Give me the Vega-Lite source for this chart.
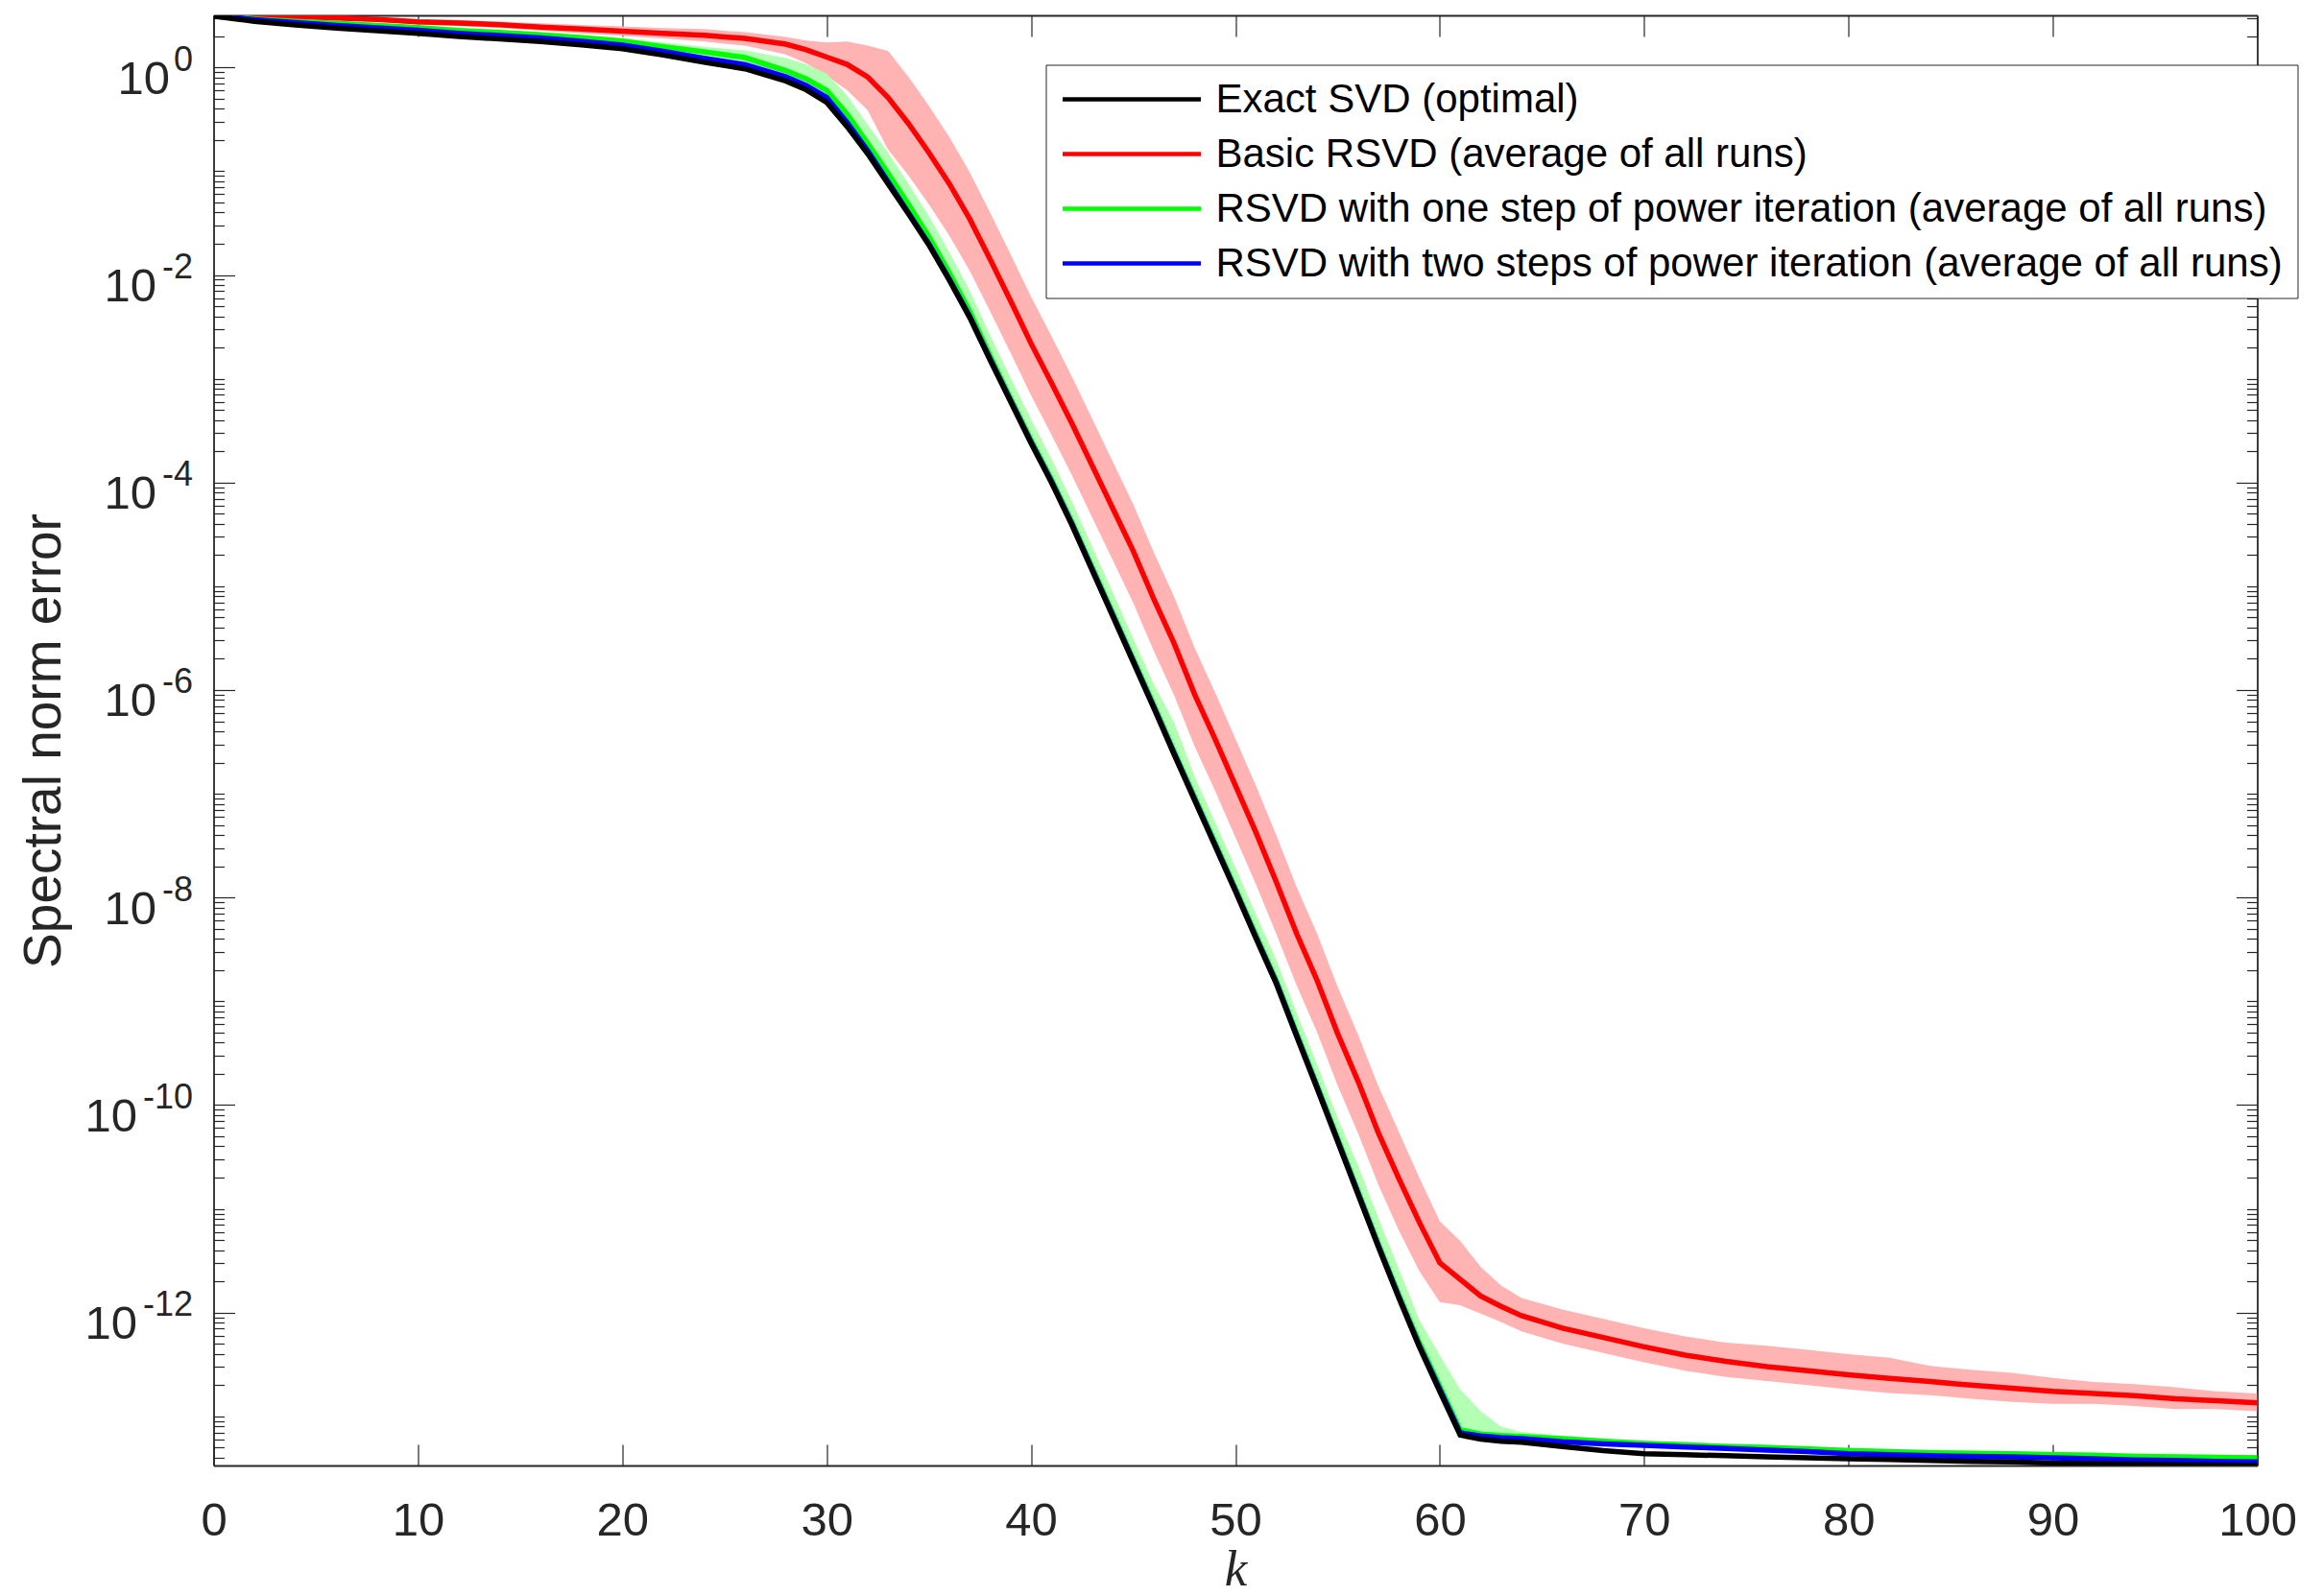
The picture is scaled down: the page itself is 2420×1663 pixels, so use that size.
{
  "$schema": "https://vega.github.io/schema/vega-lite/v6.json",
  "width": 2129,
  "height": 1511,
  "autosize": {"type": "none"},
  "padding": {"left": 222.5, "top": 16, "right": 68.5, "bottom": 136},
  "background": "white",
  "config": {
    "view": {"stroke": null},
    "font": "Liberation Sans",
    "axis": {
      "grid": false,
      "domainColor": "#262626",
      "tickColor": "#262626",
      "labelColor": "#262626",
      "titleColor": "#262626",
      "labelFont": "Liberation Sans",
      "titleFont": "Liberation Sans",
      "titleFontWeight": "normal",
      "domainWidth": 1.8,
      "tickWidth": 1.2,
      "labelFlush": false,
      "labelOverlap": false,
      "labelBound": false
    }
  },
  "data": {
    "values": [
      {"k": 0, "ex": 3.133},
      {"k": 1, "ex": 2.951, "rd": 3.162, "gr": 3.105, "bl": 3.055, "rl": 3.02, "rh": 3.18, "gl": 2.999, "gh": 3.18},
      {"k": 2, "ex": 2.786, "rd": 3.141, "gr": 2.938, "bl": 2.884, "rl": 2.999, "rh": 3.18, "gl": 2.838, "gh": 3.041},
      {"k": 4, "ex": 2.57, "rd": 3.09, "gr": 2.786, "bl": 2.704, "rl": 2.951, "rh": 3.18, "gl": 2.692, "gh": 2.884},
      {"k": 6, "ex": 2.399, "rd": 3.006, "gr": 2.661, "bl": 2.541, "rl": 2.871, "rh": 3.148, "gl": 2.57, "gh": 2.754},
      {"k": 8, "ex": 2.265, "rd": 2.904, "gr": 2.541, "bl": 2.415, "rl": 2.773, "rh": 3.041, "gl": 2.455, "gh": 2.63},
      {"k": 10, "ex": 2.138, "rd": 2.754, "gr": 2.427, "bl": 2.291, "rl": 2.6, "rh": 2.917, "gl": 2.344, "gh": 2.512},
      {"k": 12, "ex": 1.986, "rd": 2.679, "gr": 2.28, "bl": 2.138, "rl": 2.5, "rh": 2.871, "gl": 2.203, "gh": 2.36},
      {"k": 14, "ex": 1.884, "rd": 2.582, "gr": 2.178, "bl": 2.032, "rl": 2.41, "rh": 2.767, "gl": 2.104, "gh": 2.254},
      {"k": 16, "ex": 1.778, "rd": 2.455, "gr": 2.065, "bl": 1.923, "rl": 2.265, "rh": 2.661, "gl": 1.972, "gh": 2.188},
      {"k": 18, "ex": 1.652, "rd": 2.344, "gr": 1.941, "bl": 1.791, "rl": 2.138, "rh": 2.57, "gl": 1.854, "gh": 2.056},
      {"k": 20, "ex": 1.514, "rd": 2.239, "gr": 1.799, "bl": 1.644, "rl": 2.018, "rh": 2.483, "gl": 1.718, "gh": 1.905},
      {"k": 22, "ex": 1.318, "rd": 2.138, "gr": 1.585, "bl": 1.435, "rl": 1.905, "rh": 2.399, "gl": 1.479, "gh": 1.738},
      {"k": 24, "ex": 1.122, "rd": 2.042, "gr": 1.413, "bl": 1.23, "rl": 1.778, "rh": 2.344, "gl": 1.288, "gh": 1.585, "ul": 1.175, "uh": 1.288},
      {"k": 26, "ex": 0.9705, "rd": 1.905, "gr": 1.245, "bl": 1.064, "rl": 1.622, "rh": 2.188, "gl": 1.109, "gh": 1.462, "ul": 1.016, "uh": 1.153},
      {"k": 28, "ex": 0.7413, "rd": 1.679, "gr": 0.9333, "bl": 0.8128, "rl": 1.334, "rh": 1.972, "gl": 0.8128, "gh": 1.23, "ul": 0.7586, "uh": 0.912},
      {"k": 29, "ex": 0.6095, "rd": 1.479, "gr": 0.7762, "bl": 0.6683, "rl": 1.096, "rh": 1.82, "gl": 0.6761, "gh": 1.072, "ul": 0.6237, "uh": 0.7674},
      {"k": 30, "ex": 0.4603, "rd": 1.259, "gr": 0.6026, "bl": 0.5129, "rl": 0.8318, "rh": 1.738, "gl": 0.5012, "gh": 0.871, "ul": 0.4677, "uh": 0.6026},
      {"k": 31, "ex": 0.2692, "rd": 1.072, "gr": 0.3548, "bl": 0.2951, "rl": 0.6026, "rh": 1.778, "gl": 0.2818, "gh": 0.537, "ul": 0.2692, "uh": 0.3548},
      {"k": 32, "ex": 0.1479, "rd": 0.8128, "gr": 0.1862, "bl": 0.1585, "rl": 0.389, "rh": 1.622, "gl": 0.1549, "gh": 0.2818, "ul": 0.1479, "uh": 0.1862},
      {"k": 33, "ex": 0.07586, "rd": 0.5129, "gr": 0.0955, "bl": 0.07943, "rl": 0.1622, "rh": 1.445, "gl": 0.08318, "gh": 0.1514, "ul": 0.07586, "uh": 0.0912},
      {"k": 34, "ex": 0.0389, "rd": 0.2884, "gr": 0.04786, "bl": 0.03981, "rl": 0.0912, "rh": 0.8128, "gl": 0.04169, "gh": 0.07586, "ul": 0.03802, "uh": 0.04571},
      {"k": 35, "ex": 0.0195, "rd": 0.1514, "gr": 0.02344, "bl": 0.01995, "rl": 0.04786, "rh": 0.4266, "gl": 0.02042, "gh": 0.03715, "ul": 0.01905, "uh": 0.02291},
      {"k": 36, "ex": 0.008913, "rd": 0.07586, "gr": 0.01047, "bl": 0.00912, "rl": 0.02399, "rh": 0.2138, "gl": 0.00912, "gh": 0.0166, "ul": 0.00871, "uh": 0.01047},
      {"k": 37, "ex": 0.00389, "rd": 0.03467, "gr": 0.004467, "bl": 0.003981, "rl": 0.01096, "rh": 0.09772, "gl": 0.00389, "gh": 0.007079, "ul": 0.003802, "uh": 0.004571},
      {"k": 38, "ex": 0.001514, "rd": 0.01413, "gr": 0.00166, "bl": 0.001549, "rl": 0.004467, "rh": 0.03981, "gl": 0.001514, "gh": 0.00263, "ul": 0.001479, "uh": 0.001778},
      {"k": 39, "ex": 6.026e-4, "rd": 0.005623, "gr": 6.457e-4, "bl": 6.166e-4, "rl": 0.001778, "rh": 0.01585, "gl": 6.026e-4, "gh": 0.001023, "ul": 6.026e-4, "uh": 6.761e-4},
      {"k": 40, "ex": 2.399e-4, "rd": 0.002188, "gr": 2.57e-4, "bl": 2.455e-4, "rl": 6.918e-4, "rh": 0.006166, "gl": 2.399e-4, "gh": 4.074e-4, "ul": 2.399e-4, "uh": 2.692e-4},
      {"k": 41, "ex": 1e-4, "rd": 9.12e-4, "gr": 1.072e-4, "bl": 1.023e-4, "rl": 2.884e-4, "rh": 0.00257, "gl": 1e-4, "gh": 1.698e-4},
      {"k": 42, "ex": 3.89e-5, "rd": 3.715e-4, "gr": 4.169e-5, "bl": 3.981e-5, "rl": 1.175e-4, "rh": 0.001047, "gl": 3.89e-5, "gh": 6.607e-5},
      {"k": 43, "ex": 1.413e-5, "rd": 1.445e-4, "gr": 1.514e-5, "bl": 1.445e-5, "rl": 4.571e-5, "rh": 4.074e-4, "gl": 1.413e-5, "gh": 2.399e-5},
      {"k": 44, "ex": 5.129e-6, "rd": 5.623e-5, "gr": 5.495e-6, "bl": 5.248e-6, "rl": 1.778e-5, "rh": 1.585e-4, "gl": 5.129e-6, "gh": 8.71e-6},
      {"k": 45, "ex": 1.862e-6, "rd": 2.188e-5, "gr": 1.995e-6, "bl": 1.905e-6, "rl": 6.918e-6, "rh": 6.166e-5, "gl": 1.862e-6, "gh": 3.162e-6},
      {"k": 46, "ex": 6.761e-7, "rd": 7.586e-6, "gr": 7.244e-7, "bl": 6.918e-7, "rl": 2.399e-6, "rh": 2.138e-5, "gl": 6.761e-7, "gh": 1.148e-6},
      {"k": 47, "ex": 2.399e-7, "rd": 2.818e-6, "gr": 2.57e-7, "bl": 2.455e-7, "rl": 8.913e-7, "rh": 7.943e-6, "gl": 2.399e-7, "gh": 4.898e-7},
      {"k": 48, "ex": 8.71e-8, "rd": 9.12e-7, "gr": 9.333e-8, "bl": 8.913e-8, "rl": 2.884e-7, "rh": 2.57e-6, "gl": 8.71e-8, "gh": 1.479e-7},
      {"k": 49, "ex": 3.162e-8, "rd": 3.388e-7, "gr": 3.388e-8, "bl": 3.236e-8, "rl": 1.072e-7, "rh": 9.55e-7, "gl": 3.162e-8, "gh": 5.37e-8},
      {"k": 50, "ex": 1.148e-8, "rd": 1.202e-7, "gr": 1.23e-8, "bl": 1.175e-8, "rl": 3.802e-8, "rh": 3.388e-7, "gl": 1.148e-8, "gh": 1.95e-8},
      {"k": 51, "ex": 4.074e-9, "rd": 4.266e-8, "gr": 4.365e-9, "bl": 4.169e-9, "rl": 1.349e-8, "rh": 1.202e-7, "gl": 4.074e-9, "gh": 6.918e-9},
      {"k": 52, "ex": 1.479e-9, "rd": 1.413e-8, "gr": 1.585e-9, "bl": 1.514e-9, "rl": 4.467e-9, "rh": 3.981e-8, "gl": 1.479e-9, "gh": 2.512e-9},
      {"k": 53, "ex": 4.571e-10, "rd": 4.467e-9, "gr": 4.898e-10, "bl": 4.677e-10, "rl": 1.413e-9, "rh": 1.259e-8, "gl": 4.571e-10, "gh": 7.762e-10},
      {"k": 54, "ex": 1.445e-10, "rd": 1.585e-9, "gr": 1.549e-10, "bl": 1.479e-10, "rl": 5.012e-10, "rh": 4.467e-9, "gl": 1.445e-10, "gh": 2.455e-10},
      {"k": 55, "ex": 4.467e-11, "rd": 4.898e-10, "gr": 4.786e-11, "bl": 4.571e-11, "rl": 1.549e-10, "rh": 1.38e-9, "gl": 4.467e-11, "gh": 7.586e-11},
      {"k": 56, "ex": 1.38e-11, "rd": 1.698e-10, "gr": 1.479e-11, "bl": 1.413e-11, "rl": 5.37e-11, "rh": 4.786e-10, "gl": 1.38e-11, "gh": 2.63e-11},
      {"k": 57, "ex": 4.266e-12, "rd": 5.37e-11, "gr": 4.571e-12, "bl": 4.365e-12, "rl": 1.698e-11, "rh": 1.514e-10, "gl": 4.266e-12, "gh": 8.128e-12},
      {"k": 58, "ex": 1.38e-12, "rd": 1.95e-11, "gr": 1.479e-12, "bl": 1.413e-12, "rl": 6.166e-12, "rh": 5.495e-11, "gl": 1.38e-12, "gh": 2.63e-12},
      {"k": 59, "ex": 4.677e-13, "rd": 7.413e-12, "gr": 5.129e-13, "bl": 4.786e-13, "rl": 2.512e-12, "rh": 1.995e-11, "gl": 4.677e-13, "gh": 8.511e-13},
      {"k": 60, "ex": 1.738e-13, "rd": 3.02e-12, "gr": 1.95e-13, "bl": 1.82e-13, "rl": 1.259e-12, "rh": 7.586e-12, "gl": 1.738e-13, "gh": 3.89e-13},
      {"k": 61, "ex": 6.607e-14, "rd": 2.089e-12, "gr": 7.413e-14, "bl": 6.918e-14, "rl": 1.175e-12, "rh": 4.898e-12, "gl": 6.607e-14, "gh": 1.82e-13},
      {"k": 62, "ex": 6.026e-14, "rd": 1.445e-12, "gr": 6.761e-14, "bl": 6.457e-14, "rl": 9.772e-13, "rh": 2.754e-12, "gl": 6.026e-14, "gh": 1.122e-13},
      {"k": 63, "ex": 5.754e-14, "rd": 1.148e-12, "gr": 6.531e-14, "bl": 6.237e-14, "rl": 8.128e-13, "rh": 1.82e-12, "gl": 5.888e-14, "gh": 7.943e-14},
      {"k": 64, "ex": 5.623e-14, "rd": 9.333e-13, "gr": 6.383e-14, "bl": 6.095e-14, "rl": 6.607e-13, "rh": 1.38e-12, "gl": 6.026e-14, "gh": 7.079e-14},
      {"k": 66, "ex": 5.129e-14, "rd": 7.079e-13, "gr": 6.095e-14, "bl": 5.689e-14, "rl": 5.012e-13, "rh": 1.072e-12, "gl": 5.888e-14, "gh": 6.457e-14},
      {"k": 68, "ex": 4.677e-14, "rd": 5.754e-13, "gr": 5.754e-14, "bl": 5.433e-14, "rl": 4.074e-13, "rh": 8.71e-13, "gl": 5.559e-14, "gh": 6.095e-14},
      {"k": 70, "ex": 4.365e-14, "rd": 4.677e-13, "gr": 5.495e-14, "bl": 5.248e-14, "rl": 3.311e-13, "rh": 7.079e-13, "gl": 5.309e-14, "gh": 5.821e-14},
      {"k": 72, "ex": 4.266e-14, "rd": 3.89e-13, "gr": 5.309e-14, "bl": 5.07e-14, "rl": 2.754e-13, "rh": 5.888e-13, "gl": 5.129e-14, "gh": 5.623e-14},
      {"k": 74, "ex": 4.169e-14, "rd": 3.388e-13, "gr": 5.129e-14, "bl": 4.898e-14, "rl": 2.399e-13, "rh": 5.129e-13, "gl": 4.955e-14, "gh": 5.433e-14},
      {"k": 76, "ex": 4.074e-14, "rd": 3.02e-13, "gr": 5.012e-14, "bl": 4.732e-14, "rl": 2.188e-13, "rh": 4.786e-13, "gl": 4.842e-14, "gh": 5.309e-14},
      {"k": 78, "ex": 3.981e-14, "rd": 2.754e-13, "gr": 4.842e-14, "bl": 4.571e-14, "rl": 1.995e-13, "rh": 4.365e-13, "gl": 4.677e-14, "gh": 5.129e-14},
      {"k": 80, "ex": 3.89e-14, "rd": 2.512e-13, "gr": 4.677e-14, "bl": 4.365e-14, "rl": 1.82e-13, "rh": 3.981e-13, "gl": 4.519e-14, "gh": 4.955e-14},
      {"k": 82, "ex": 3.846e-14, "rd": 2.317e-13, "gr": 4.571e-14, "bl": 4.266e-14, "rl": 1.679e-13, "rh": 3.673e-13, "gl": 4.416e-14, "gh": 4.842e-14},
      {"k": 84, "ex": 3.758e-14, "rd": 2.163e-13, "gr": 4.467e-14, "bl": 4.169e-14, "rl": 1.603e-13, "rh": 3.055e-13, "gl": 4.315e-14, "gh": 4.732e-14},
      {"k": 86, "ex": 3.673e-14, "rd": 1.995e-13, "gr": 4.416e-14, "bl": 4.121e-14, "rl": 1.479e-13, "rh": 2.818e-13, "gl": 4.266e-14, "gh": 4.677e-14},
      {"k": 88, "ex": 3.631e-14, "rd": 1.862e-13, "gr": 4.365e-14, "bl": 4.074e-14, "rl": 1.38e-13, "rh": 2.63e-13, "gl": 4.217e-14, "gh": 4.624e-14},
      {"k": 90, "ex": 3.548e-14, "rd": 1.738e-13, "gr": 4.266e-14, "bl": 3.981e-14, "rl": 1.318e-13, "rh": 2.344e-13, "gl": 4.121e-14, "gh": 4.519e-14},
      {"k": 92, "ex": 3.508e-14, "rd": 1.66e-13, "gr": 4.217e-14, "bl": 3.89e-14, "rl": 1.318e-13, "rh": 2.138e-13, "gl": 4.074e-14, "gh": 4.467e-14},
      {"k": 94, "ex": 3.467e-14, "rd": 1.585e-13, "gr": 4.121e-14, "bl": 3.802e-14, "rl": 1.259e-13, "rh": 2.042e-13, "gl": 3.981e-14, "gh": 4.365e-14},
      {"k": 96, "ex": 3.428e-14, "rd": 1.479e-13, "gr": 4.074e-14, "bl": 3.758e-14, "rl": 1.175e-13, "rh": 1.905e-13, "gl": 3.936e-14, "gh": 4.315e-14},
      {"k": 98, "ex": 3.388e-14, "rd": 1.413e-13, "gr": 4.027e-14, "bl": 3.673e-14, "rl": 1.175e-13, "rh": 1.738e-13, "gl": 3.89e-14, "gh": 4.266e-14},
      {"k": 100, "ex": 3.365e-14, "rd": 1.349e-13, "gr": 3.981e-14, "bl": 3.631e-14, "rl": 1.122e-13, "rh": 1.66e-13, "gl": 3.846e-14, "gh": 4.217e-14}
    ]
  },
  "resolve": {"axis": {"x": "independent", "y": "independent"}},
  "layer": [
    {
      "mark": {"type": "area", "color": "#ffb3b3", "opacity": 1, "clip": true},
      "encoding": {
        "x": {
          "field": "k", "type": "quantitative",
          "scale": {"domain": [0, 100], "nice": false, "zero": false},
          "axis": {
            "orient": "bottom",
            "values": [0, 10, 20, 30, 40, 50, 60, 70, 80, 90, 100],
            "tickSize": -22,
            "labelFontSize": 49,
            "labelPadding": 55,
            "domain": true,
            "title": "k",
            "titleFont": "Liberation Serif",
            "titleFontStyle": "italic",
            "titleFontSize": 53,
            "titlePadding": 0
          }
        },
        "y": {
          "field": "rl", "type": "quantitative",
          "scale": {"type": "log", "domain": [3.36e-14, 3.18], "nice": false},
          "axis": {
            "orient": "left",
            "values": [1, 0.01, 1e-4, 1e-6, 1e-8, 1e-10, 1e-12],
            "labelExpr": "datum.value > 0.5 ? '0' : '-' + round(-log(datum.value) / LN10)",
            "tickSize": -22,
            "labelFontSize": 36,
            "labelAlign": "right",
            "labelBaseline": "middle",
            "labelOffset": -8,
            "labelPadding": 44,
            "domain": true,
            "title": null
          }
        },
        "y2": {"field": "rh"}
      }
    },
    {
      "mark": {"type": "area", "color": "#b3ffb3", "opacity": 1, "clip": true},
      "encoding": {
        "x": {
          "field": "k", "type": "quantitative",
          "axis": {
            "orient": "top",
            "values": [0, 10, 20, 30, 40, 50, 60, 70, 80, 90, 100],
            "tickSize": -22,
            "labels": false,
            "domain": true,
            "title": null
          }
        },
        "y": {
          "field": "gl", "type": "quantitative",
          "axis": {
            "orient": "left",
            "values": [1, 0.01, 1e-4, 1e-6, 1e-8, 1e-10, 1e-12],
            "labelExpr": "'10'",
            "ticks": false,
            "domain": false,
            "labelFontSize": 49,
            "labelAlign": "right",
            "labelBaseline": "middle",
            "labelOffset": 12,
            "labelPadding": {"condition": [{"test": "datum.value > 0.5", "value": 46}, {"test": "datum.value < 1e-9", "value": 80}], "value": 60},
            "title": "Spectral norm error",
            "titleFontSize": 55,
            "titlePadding": 13
          }
        },
        "y2": {"field": "gh"}
      }
    },
    {
      "mark": {"type": "area", "color": "#b3b3ff", "opacity": 1, "clip": true},
      "encoding": {
        "x": {"field": "k", "type": "quantitative", "axis": null},
        "y": {
          "field": "ul", "type": "quantitative",
          "axis": {
            "orient": "left",
            "values": [4e-14, 5e-14, 6e-14, 7e-14, 8e-14, 9e-14,
              1e-13, 2e-13, 3e-13, 4e-13, 5e-13, 6e-13, 7e-13, 8e-13, 9e-13,
              2e-12, 3e-12, 4e-12, 5e-12, 6e-12, 7e-12, 8e-12, 9e-12,
              1e-11, 2e-11, 3e-11, 4e-11, 5e-11, 6e-11, 7e-11, 8e-11, 9e-11,
              2e-10, 3e-10, 4e-10, 5e-10, 6e-10, 7e-10, 8e-10, 9e-10,
              1e-9, 2e-9, 3e-9, 4e-9, 5e-9, 6e-9, 7e-9, 8e-9, 9e-9,
              2e-8, 3e-8, 4e-8, 5e-8, 6e-8, 7e-8, 8e-8, 9e-8,
              1e-7, 2e-7, 3e-7, 4e-7, 5e-7, 6e-7, 7e-7, 8e-7, 9e-7,
              2e-6, 3e-6, 4e-6, 5e-6, 6e-6, 7e-6, 8e-6, 9e-6,
              1e-5, 2e-5, 3e-5, 4e-5, 5e-5, 6e-5, 7e-5, 8e-5, 9e-5,
              2e-4, 3e-4, 4e-4, 5e-4, 6e-4, 7e-4, 8e-4, 9e-4,
              0.001, 0.002, 0.003, 0.004, 0.005, 0.006, 0.007, 0.008, 0.009,
              0.02, 0.03, 0.04, 0.05, 0.06, 0.07, 0.08, 0.09,
              0.1, 0.2, 0.3, 0.4, 0.5, 0.6, 0.7, 0.8, 0.9,
              2, 3],
            "tickSize": -11,
            "labels": false,
            "domain": false,
            "title": null
          }
        },
        "y2": {"field": "uh"}
      }
    },
    {
      "mark": {"type": "line", "strokeWidth": 5.5, "clip": true},
      "encoding": {
        "x": {"field": "k", "type": "quantitative", "axis": null},
        "y": {
          "field": "rd", "type": "quantitative",
          "axis": {
            "orient": "right",
            "values": [1, 0.01, 1e-4, 1e-6, 1e-8, 1e-10, 1e-12],
            "tickSize": -22,
            "labels": false,
            "domain": true,
            "title": null
          }
        },
        "color": {
          "datum": "Basic RSVD (average of all runs)",
          "type": "nominal",
          "scale": {
            "domain": [
              "Exact SVD (optimal)",
              "Basic RSVD (average of all runs)",
              "RSVD with one step of power iteration (average of all runs)",
              "RSVD with two steps of power iteration (average of all runs)"
            ],
            "range": ["#000000", "#ff0000", "#00ff00", "#0000ff"]
          },
          "legend": {
            "orient": "none",
            "legendX": 867,
            "legendY": 51.5,
            "title": null,
            "direction": "vertical",
            "labelFont": "Liberation Sans",
            "labelFontSize": 42,
            "labelColor": "#000000",
            "labelLimit": 0,
            "labelOffset": 13,
            "labelExpr": "datum.label + '\u00a0\u00a0\u00a0\u00a0\u00a0'",
            "symbolType": "stroke",
            "symbolSize": 20736,
            "symbolStrokeWidth": 4.5,
            "clipHeight": 42,
            "strokeColor": "#262626",
            "fillColor": "#ffffff",
            "padding": 15,
            "rowPadding": 15
          }
        }
      }
    },
    {
      "mark": {"type": "line", "strokeWidth": 5.5, "clip": true},
      "encoding": {
        "x": {"field": "k", "type": "quantitative", "axis": null},
        "y": {
          "field": "gr", "type": "quantitative",
          "axis": {
            "orient": "right",
            "values": [4e-14, 5e-14, 6e-14, 7e-14, 8e-14, 9e-14,
              1e-13, 2e-13, 3e-13, 4e-13, 5e-13, 6e-13, 7e-13, 8e-13, 9e-13,
              2e-12, 3e-12, 4e-12, 5e-12, 6e-12, 7e-12, 8e-12, 9e-12,
              1e-11, 2e-11, 3e-11, 4e-11, 5e-11, 6e-11, 7e-11, 8e-11, 9e-11,
              2e-10, 3e-10, 4e-10, 5e-10, 6e-10, 7e-10, 8e-10, 9e-10,
              1e-9, 2e-9, 3e-9, 4e-9, 5e-9, 6e-9, 7e-9, 8e-9, 9e-9,
              2e-8, 3e-8, 4e-8, 5e-8, 6e-8, 7e-8, 8e-8, 9e-8,
              1e-7, 2e-7, 3e-7, 4e-7, 5e-7, 6e-7, 7e-7, 8e-7, 9e-7,
              2e-6, 3e-6, 4e-6, 5e-6, 6e-6, 7e-6, 8e-6, 9e-6,
              1e-5, 2e-5, 3e-5, 4e-5, 5e-5, 6e-5, 7e-5, 8e-5, 9e-5,
              2e-4, 3e-4, 4e-4, 5e-4, 6e-4, 7e-4, 8e-4, 9e-4,
              0.001, 0.002, 0.003, 0.004, 0.005, 0.006, 0.007, 0.008, 0.009,
              0.02, 0.03, 0.04, 0.05, 0.06, 0.07, 0.08, 0.09,
              0.1, 0.2, 0.3, 0.4, 0.5, 0.6, 0.7, 0.8, 0.9,
              2, 3],
            "tickSize": -11,
            "labels": false,
            "domain": false,
            "title": null
          }
        },
        "color": {"datum": "RSVD with one step of power iteration (average of all runs)", "type": "nominal"}
      }
    },
    {
      "mark": {"type": "line", "strokeWidth": 5.5, "clip": true},
      "encoding": {
        "x": {"field": "k", "type": "quantitative", "axis": null},
        "y": {"field": "bl", "type": "quantitative", "axis": null},
        "color": {"datum": "RSVD with two steps of power iteration (average of all runs)", "type": "nominal"}
      }
    },
    {
      "mark": {"type": "line", "strokeWidth": 5.5, "clip": true},
      "encoding": {
        "x": {"field": "k", "type": "quantitative", "axis": null},
        "y": {"field": "ex", "type": "quantitative", "axis": null},
        "color": {"datum": "Exact SVD (optimal)", "type": "nominal"}
      }
    }
  ]
}
